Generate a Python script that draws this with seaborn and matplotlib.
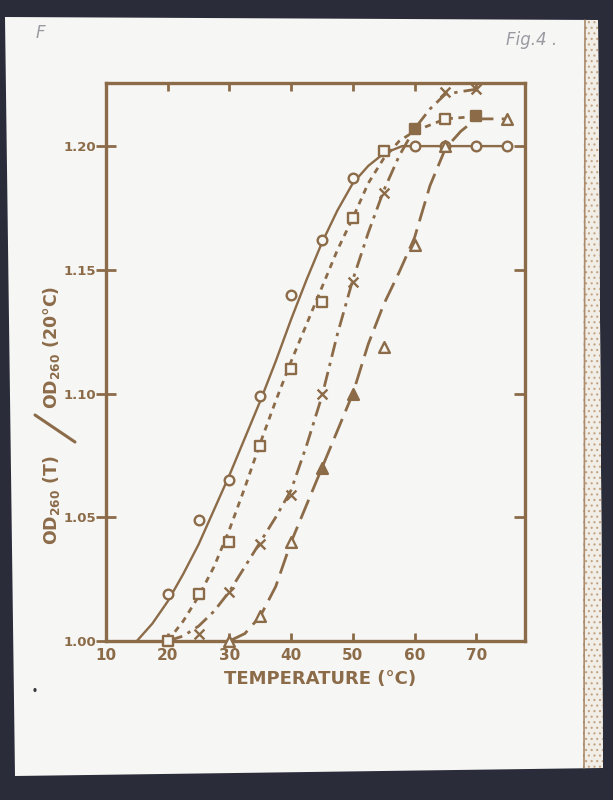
import matplotlib
matplotlib.use("Agg")
import matplotlib.pyplot as plt
from matplotlib.patches import Polygon, Circle
from matplotlib.lines import Line2D
import seaborn as sns
import pandas as pd

sns.set_theme(style="white")
plt.rcParams['font.family'] = ['DejaVu Sans']

# ---------------- data ----------------
circle_t  = [20, 25, 30, 35, 40, 45, 50, 60, 65, 70, 75]
circle_od = [1.019, 1.049, 1.065, 1.099, 1.140, 1.162, 1.187, 1.200, 1.200, 1.200, 1.200]

square_t  = [20, 25, 30, 35, 40, 45, 50, 55, 60, 65, 70]
square_od = [1.000, 1.019, 1.040, 1.079, 1.110, 1.137, 1.171, 1.198, 1.207, 1.211, 1.212]

cross_t  = [25, 30, 35, 40, 45, 50, 55, 65, 70]
cross_od = [1.003, 1.020, 1.039, 1.059, 1.100, 1.145, 1.181, 1.222, 1.223]

tri_t  = [30, 35, 40, 45, 50, 55, 60, 65, 75]
tri_od = [1.000, 1.010, 1.040, 1.070, 1.100, 1.119, 1.160, 1.200, 1.211]

# hand-drawn smooth curves (knots)
circle_curve_t  = [15, 17.5, 20, 22.5, 25, 27.5, 30, 32.5, 35, 37.5, 40, 42.5, 45, 47.5, 50, 52.5, 55, 58, 75]
circle_curve_od = [1.000, 1.007, 1.016, 1.027, 1.039, 1.053, 1.067, 1.082, 1.097, 1.113, 1.130, 1.146, 1.161, 1.174, 1.185, 1.192, 1.197, 1.200, 1.200]

square_curve_t  = [20, 22.5, 25, 27.5, 30, 32.5, 35, 37.5, 40, 42.5, 45, 47.5, 50, 52.5, 55, 57.5, 60, 65, 70]
square_curve_od = [1.000, 1.008, 1.018, 1.030, 1.045, 1.062, 1.080, 1.097, 1.113, 1.128, 1.143, 1.158, 1.171, 1.185, 1.195, 1.202, 1.206, 1.211, 1.212]

cross_curve_t  = [20, 22.5, 25, 27.5, 30, 32.5, 35, 37.5, 40, 42.5, 45, 47.5, 50, 52.5, 55, 57.5, 60, 62.5, 65, 70]
cross_curve_od = [1.000, 1.002, 1.006, 1.012, 1.020, 1.030, 1.040, 1.050, 1.061, 1.079, 1.099, 1.124, 1.146, 1.165, 1.182, 1.196, 1.207, 1.215, 1.221, 1.223]

tri_curve_t  = [30, 32.5, 35, 37.5, 40, 42.5, 45, 47.5, 50, 52.5, 55, 57.5, 60, 62.5, 65, 67.5, 70, 75]
tri_curve_od = [1.000, 1.003, 1.010, 1.022, 1.040, 1.055, 1.070, 1.085, 1.100, 1.120, 1.136, 1.149, 1.163, 1.184, 1.199, 1.206, 1.211, 1.211]

x_ticks = [10, 20, 30, 40, 50, 60, 70]
y_ticks = [1.00, 1.05, 1.10, 1.15, 1.20]
y_tick_labels = ["1.00", "1.05", "1.10", "1.15", "1.20"]

# ---------------- style ----------------
INK = "#8c6b49"
PAPER = "#f6f6f4"
DARK = "#2a2c3a"
W, H = 613, 800

fig = plt.figure(figsize=(6.13, 8.0), dpi=100, facecolor=DARK)

def fx(px):
    return px / W

def fy(py):
    return 1 - py / H

paper = Polygon([(fx(5), fy(17)), (fx(598), fy(20)), (fx(603), fy(768)), (fx(15), fy(776))],
                closed=True, transform=fig.transFigure, facecolor=PAPER, edgecolor="none", zorder=-2)
fig.patches.append(paper)
plt.rcParams['hatch.linewidth'] = 0.8
stain = Polygon([(fx(584), fy(20)), (fx(598), fy(20)), (fx(603), fy(768)), (fx(583), fy(768))],
                closed=True, transform=fig.transFigure, facecolor="#f1ede7", edgecolor="#c4a482",
                hatch="...", linewidth=0, zorder=-1)
fig.patches.append(stain)
fig.lines.append(Line2D([fx(585), fx(584)], [fy(20), fy(768)], transform=fig.transFigure,
                        color="#9a7450", lw=1.2, alpha=0.8))
fig.patches.append(Circle((fx(35), fy(690)), 1.6 / W, transform=fig.transFigure,
                          facecolor="#3a3a40", edgecolor="none"))

ax = fig.add_axes([fx(106), fy(641), fx(525) - fx(106), fy(83) - fy(641)])
ax.set_facecolor(PAPER)
ax.set_zorder(2)

def df(t, od):
    return pd.DataFrame({"t": t, "od": od})

lw = 1.7
sns.lineplot(data=df(circle_curve_t, circle_curve_od), x="t", y="od", ax=ax, color=INK,
             lw=lw, sort=False, estimator=None)
sns.lineplot(data=df(square_curve_t, square_curve_od), x="t", y="od", ax=ax, color=INK,
             lw=lw + 0.3, ls=(0, (2.2, 2.0)), sort=False, estimator=None)
sns.lineplot(data=df(cross_curve_t, cross_curve_od), x="t", y="od", ax=ax, color=INK,
             lw=lw + 0.3, ls=(0, (5.5, 2.2, 1.2, 2.2)), sort=False, estimator=None)
sns.lineplot(data=df(tri_curve_t, tri_curve_od), x="t", y="od", ax=ax, color=INK,
             lw=lw + 0.3, ls=(0, (7.5, 3.0)), sort=False, estimator=None)

mk = dict(ax=ax, zorder=5, clip_on=False)
sns.scatterplot(data=df(circle_t, circle_od), x="t", y="od", marker="o", s=48,
                facecolors=PAPER, edgecolors=INK, linewidths=1.7, **mk)
sns.scatterplot(data=df(square_t, square_od), x="t", y="od", marker="s", s=48,
                facecolors=PAPER, edgecolors=INK, linewidths=1.7, **mk)
sns.scatterplot(data=df(cross_t, cross_od), x="t", y="od", marker="x", s=50,
                color=INK, linewidths=1.7, **mk)
sns.scatterplot(data=df(tri_t, tri_od), x="t", y="od", marker="^", s=60,
                facecolors=PAPER, edgecolors=INK, linewidths=1.7, **mk)
# ink-filled (smudged) markers
sq_filled = [i for i, t in enumerate(square_t) if t in (60, 70)]
sns.scatterplot(x=[square_t[i] for i in sq_filled], y=[square_od[i] for i in sq_filled],
                marker="s", s=60, color=INK, edgecolor=INK, **mk)
tri_filled = [i for i, t in enumerate(tri_t) if t in (45, 50)]
sns.scatterplot(x=[tri_t[i] for i in tri_filled], y=[tri_od[i] for i in tri_filled],
                marker="^", s=60, color=INK, edgecolor=INK, **mk)

ax.set_xlim(10, 77.9)
ax.set_ylim(1.00, 1.2255)
ax.set_xticks(x_ticks)
ax.set_xticklabels([str(v) for v in x_ticks])
ax.set_yticks(y_ticks)
ax.set_yticklabels(y_tick_labels)
ax.set_xlabel("")
ax.set_ylabel("")

for s in ax.spines.values():
    s.set_color(INK)
    s.set_linewidth(2.4)
    s.set_visible(True)

ax.tick_params(axis="x", which="major", direction="in", bottom=True, top=True, length=6,
               width=2.0, color=INK, labelcolor=INK, labelsize=11, pad=5)
ax.tick_params(axis="y", which="major", direction="inout", left=True, right=False, length=14,
               width=2.0, color=INK, labelcolor=INK, labelsize=9.5, pad=0)
for lab in ax.get_xticklabels() + ax.get_yticklabels():
    lab.set_fontweight("bold")

sec = ax.secondary_yaxis("right")
sec.set_yticks(y_ticks)
sec.tick_params(axis="y", direction="in", length=8, width=2.0, color=INK, labelright=False)
sec.spines["right"].set_visible(False)

fig.text(fx(320), fy(679), "TEMPERATURE (°C)", color=INK, fontsize=13, fontweight="bold",
         ha="center", va="center")
fig.text(fx(51), fy(500), "OD$_{\\mathbf{260}}$ (T)", color=INK, fontsize=12.5, fontweight="bold",
         rotation=90, ha="center", va="center")
fig.text(fx(52), fy(347), "OD$_{\\mathbf{260}}$ (20°C)", color=INK, fontsize=12.5, fontweight="bold",
         rotation=90, ha="center", va="center")
fig.lines.append(Line2D([fx(35), fx(75)], [fy(415), fy(442)], transform=fig.transFigure,
                        color=INK, lw=2.2))

fig.text(fx(40), fy(33), "F", color="#9a9aa2", fontsize=12, style="italic", ha="center", va="center")
fig.text(fx(532), fy(40), "Fig.4 .", color="#9a9aa2", fontsize=12, style="italic", ha="center", va="center")

fig.savefig("out.png", dpi=100, facecolor=DARK)
